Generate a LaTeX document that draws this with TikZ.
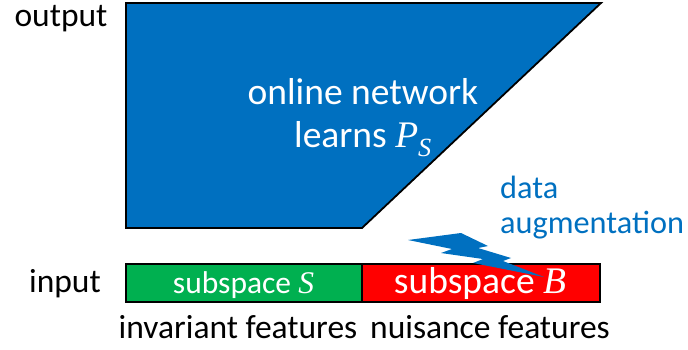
\documentclass[tikz,border=0pt]{standalone}
\usepackage{fontspec}
\setmainfont{Carlito}
\newfontfamily\mifont{Liberation Serif}
\newcommand{\mv}[1]{{\mifont\itshape #1}}
\definecolor{pblue}{HTML}{0070C0}
\definecolor{pgreen}{HTML}{00B050}
\definecolor{pred}{HTML}{FF0000}
\begin{document}
\begin{tikzpicture}[x=1pt,y=-1pt,
  lbl/.style={font=\fontsize{33.5}{36}\selectfont, inner sep=0pt, text=black, anchor=base},
  wlbl/.style={font=\fontsize{37.5}{40}\selectfont, inner sep=0pt, text=white, anchor=base},
  bar/.style={draw=black, line width=1.5pt}]
\useasboundingbox (0,0) rectangle (688,350);
% network polygon
\draw[fill=pblue, line width=1.8pt, line join=miter] (126,3) coordinate (nw) -- (601,3) coordinate (ne) -- (362,228) coordinate (se) -- (126,228) coordinate (sw) -- cycle;
\node[wlbl] (net1) at (363,105) {online network};
\node[wlbl] (net2) at (363,148) {learns \mv{P\textsubscript{S}}};
% input bar
\draw[bar, fill=pgreen] (126,264) rectangle (362,302);
\draw[bar, fill=pred] (362,264) rectangle (600,302);
\node[inner sep=0pt, anchor=base, text=white, font=\fontsize{31.5}{33}\selectfont] (ss) at (243.5,293) {subspace \mv{S}};
\node[inner sep=0pt, anchor=base, text=white, font=\fontsize{37.5}{39}\selectfont] (sb) at (480,293) {subspace \mv{B}};
% labels
\node[lbl] (out) at (61,27) {output};
\node[lbl] (in) at (65,292) {input};
\node[lbl] (inv) at (238,338) {invariant features};
\node[lbl] (nui) at (490,338) {nuisance features};
\node[lbl, text=pblue, anchor=base west, font=\fontsize{32.3}{34}\selectfont] (da1) at (500,198) {data};
\node[lbl, text=pblue, anchor=base west, font=\fontsize{32.3}{34}\selectfont] (da2) at (500,233) {augmentation};
% lightning
\fill[pblue] (408,240) -- (461,233) -- (488,246) -- (478,248) -- (511,258) -- (503,261) -- (544,277)
  -- (473,263) -- (483,259) -- (441,253) -- (452,249) -- cycle;
\end{tikzpicture}
\end{document}
